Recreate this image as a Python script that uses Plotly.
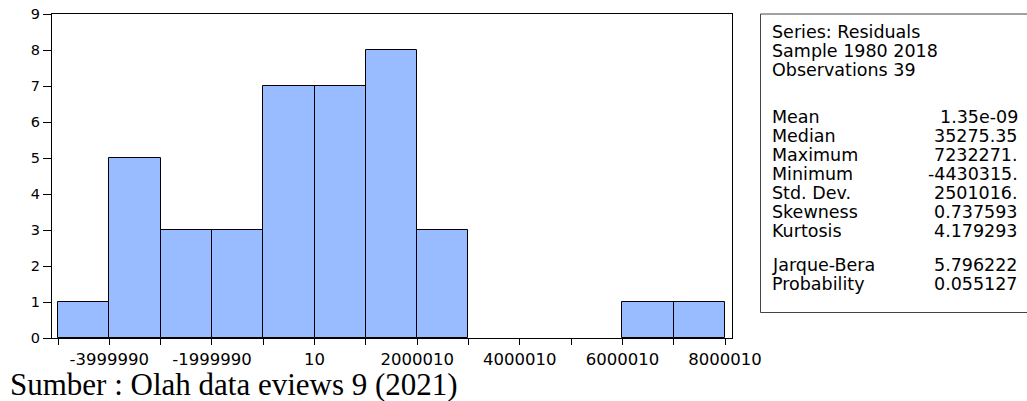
import plotly.graph_objects as go

# Histogram of residuals: bin lower edges and counts (bin width 1,000,000)
bin_starts = [-4999990, -3999990, -2999990, -1999990, -999990, 10,
              1000010, 2000010, 3000010, 4000010, 5000010, 6000010, 7000010]
counts = [1, 5, 3, 3, 7, 7, 8, 3, 0, 0, 0, 1, 1]
bin_width = 1000000

x_tick_vals = [-4999990, -3999990, -2999990, -1999990, -999990, 10, 1000010,
               2000010, 3000010, 4000010, 5000010, 6000010, 7000010, 8000010]
x_tick_text = ["", "-3999990", "", "-1999990", "", "10", "",
               "2000010", "", "4000010", "", "6000010", "", "8000010"]

stat_header = ["Series: Residuals", "Sample 1980 2018", "Observations 39"]
stat_names = ["Mean", "Median", "Maximum", "Minimum", "Std. Dev.",
              "Skewness", "Kurtosis"]
stat_values = ["1.35e-09", "35275.35", "7232271.", "-4430315.", "2501016.",
               "0.737593", "4.179293"]
test_names = ["Jarque-Bera", "Probability"]
test_values = ["5.796222", "0.055127"]

caption = "Sumber : Olah data eviews 9 (2021)"

W, H = 1027, 401
centers = [s + bin_width / 2 for s in bin_starts]
edge_widths = [1 if c > 0 else 0 for c in counts]

fig = go.Figure()
fig.add_trace(go.Bar(
    x=centers, y=counts, width=bin_width,
    marker=dict(color="#99BBFF", line=dict(color="black", width=edge_widths)),
    hoverinfo="x+y",
))


def px(xp):
    return xp / W


def py(yp):
    return 1 - yp / H


annotations = []
sans = "DejaVu Sans, Arial, sans-serif"
font_stats = dict(family=sans, size=17.5, color="black")


def add_text(x, y, text, anchor, font):
    annotations.append(dict(x=px(x), y=py(y), xref="paper", yref="paper",
                            text=text, showarrow=False, xanchor=anchor,
                            yanchor="middle", font=font))


# Stats panel text lines
for t, yy in zip(stat_header, [32, 51, 70]):
    add_text(770, yy, t, "left", font_stats)
for n, v, yy in zip(stat_names, stat_values, [117, 136, 155, 174, 193, 212, 231]):
    add_text(770, yy, n, "left", font_stats)
    add_text(1020, yy, v, "right", font_stats)
for n, v, yy in zip(test_names, test_values, [265, 284]):
    add_text(770, yy, n, "left", font_stats)
    add_text(1020, yy, v, "right", font_stats)

# Source caption below the chart
add_text(8, 384, caption, "left",
         dict(family="Liberation Serif, Times New Roman, serif", size=31, color="black"))

shapes = [dict(type="rect", xref="paper", yref="paper",
               x0=px(760.5), x1=px(1032), y0=py(312.5), y1=py(14),
               line=dict(color="#444444", width=1), fillcolor="rgba(0,0,0,0)")]

fig.update_layout(
    width=W, height=H,
    margin=dict(l=0, r=0, t=0, b=0),
    paper_bgcolor="white", plot_bgcolor="white",
    showlegend=False,
    bargap=0,
    font=dict(family=sans, size=13, color="black"),
    xaxis=dict(
        domain=[px(52), px(732)],
        range=[-5117000, 8136000],
        tickmode="array", tickvals=x_tick_vals, ticktext=x_tick_text,
        ticks="outside", ticklen=6, tickcolor="black", tickwidth=1,
        showline=True, linecolor="black", linewidth=1, mirror=True,
        showgrid=False, zeroline=False, automargin=False,
        tickfont=dict(family=sans, size=16.5),
    ),
    yaxis=dict(
        domain=[py(338), py(14)],
        range=[0, 9],
        tickmode="linear", tick0=0, dtick=1,
        ticks="outside", ticklen=8, tickcolor="black", tickwidth=1,
        showline=True, linecolor="black", linewidth=1, mirror=True,
        showgrid=False, zeroline=False, automargin=False,
        tickfont=dict(family=sans, size=14.5),
    ),
    annotations=annotations,
    shapes=shapes,
)

fig.write_html("out.html")
